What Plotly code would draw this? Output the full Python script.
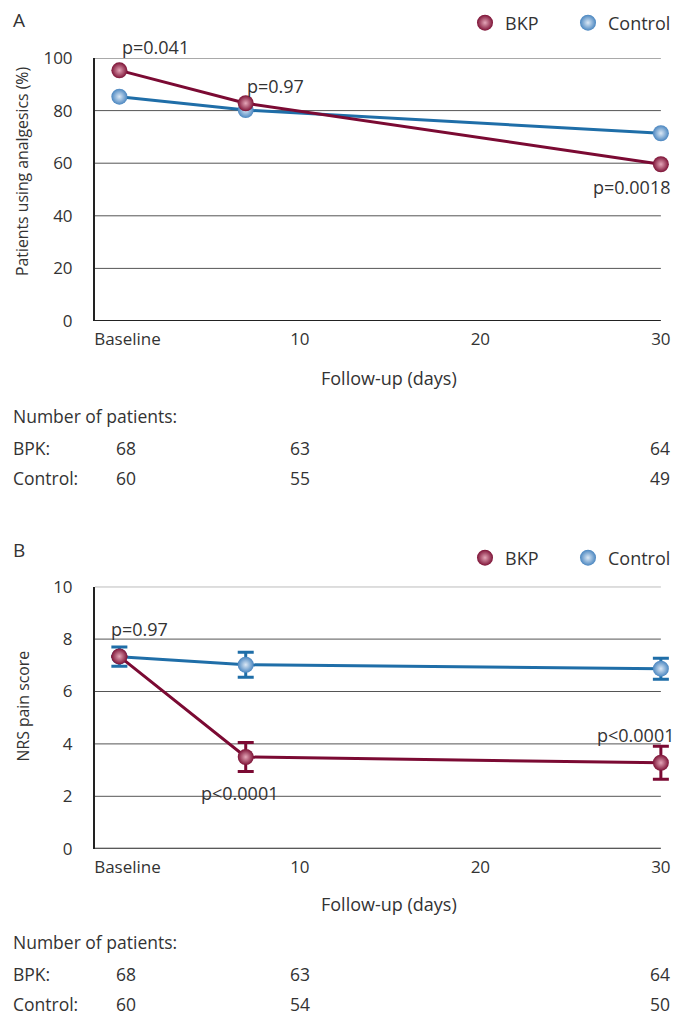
import plotly.graph_objects as go

# ---------------- data ----------------
days = [0, 7, 30]
x_tickvals = [0.45, 10, 20, 30]
x_ticktext = ["Baseline", "10", "20", "30"]

# Panel A: patients using analgesics (%)
y_ticks_a = [0, 20, 40, 60, 80, 100]
analgesic_bkp = [95.3, 82.8, 59.6]
analgesic_ctrl = [85.3, 80.2, 71.4]
pvals_a = ["p=0.041", "p=0.97", "p=0.0018"]
n_a_bkp = [68, 63, 64]
n_a_ctrl = [60, 55, 49]

# Panel B: NRS pain score
y_ticks_b = [0, 2, 4, 6, 8, 10]
nrs_bkp = [7.34, 3.50, 3.28]
nrs_bkp_err = [0, 0.55, 0.63]
nrs_ctrl = [7.33, 7.02, 6.87]
nrs_ctrl_err = [0.37, 0.48, 0.40]
pvals_b = ["p=0.97", "p<0.0001", "p<0.0001"]
n_b_bkp = [68, 63, 64]
n_b_ctrl = [60, 54, 50]

# ---------------- style ----------------
FONT = "Open Sans"
TXT = "#333333"
BKP_LINE = "#7b0a33"
BKP_EDGE = "#7d1236"
BKP_HI = "#e4a6b8"
CTL_LINE = "#1f6ea8"
CTL_EDGE = "#4a86c0"
CTL_HI = "#dbe8f5"

# page body has an 8px default margin: size the figure to the visible area
OFF = 8
W, H = 687 - OFF, 1018 - OFF
X_MIN, X_MAX, X_END = -1.35, 31, 30


def px(x):
    return (x - OFF) / W


def py(y):
    return (H - (y - OFF)) / H


fig = go.Figure()


def add_series(xa, ya, yvals, line, edge, hi, err=None):
    kw = {}
    if err is not None:
        kw["error_y"] = dict(type="data", array=err, visible=True, color=line,
                             thickness=3, width=8)
    fig.add_trace(go.Scatter(
        x=days, y=yvals, xaxis=xa, yaxis=ya, mode="lines+markers",
        line=dict(color=line, width=3),
        marker=dict(size=16, color=edge, gradient=dict(type="radial", color=hi),
                    line=dict(width=0)),
        cliponaxis=False, showlegend=False, hoverinfo="skip", **kw))


# Panel A
add_series("x", "y", analgesic_ctrl, CTL_LINE, CTL_EDGE, CTL_HI)
add_series("x", "y", analgesic_bkp, BKP_LINE, BKP_EDGE, BKP_HI)
# Panel B
add_series("x2", "y2", nrs_ctrl, CTL_LINE, CTL_EDGE, CTL_HI, err=nrs_ctrl_err)
add_series("x2", "y2", nrs_bkp, BKP_LINE, BKP_EDGE, BKP_HI, err=nrs_bkp_err)

# legend-only traces (one legend per item so spacing can match)
leg_items = [("legend", "BKP", BKP_EDGE, BKP_HI, "x", "y"),
             ("legend2", "Control", CTL_EDGE, CTL_HI, "x", "y"),
             ("legend3", "BKP", BKP_EDGE, BKP_HI, "x2", "y2"),
             ("legend4", "Control", CTL_EDGE, CTL_HI, "x2", "y2")]
for lg, name, edge, hi, xa, ya in leg_items:
    fig.add_trace(go.Scatter(
        x=[None], y=[None], mode="markers", name=name, legend=lg, xaxis=xa, yaxis=ya,
        marker=dict(size=16, color=edge, gradient=dict(type="radial", color=hi),
                    line=dict(width=0)),
        showlegend=True))

xdom = [px(95), px(95 + (X_MAX - X_MIN) * 18.05)]
common_x = dict(range=[X_MIN, X_MAX], tickvals=x_tickvals, ticktext=x_ticktext,
                showgrid=False, zeroline=False, showline=False, automargin=False,
                ticks="", ticklabelstandoff=6,
                tickfont=dict(family=FONT, size=17, color=TXT), fixedrange=True)
common_y = dict(showgrid=False, zeroline=False, automargin=False,
                showline=True, linecolor="#222222", linewidth=2, ticks="",
                ticklabelstandoff=17, tickfont=dict(family=FONT, size=17, color=TXT),
                fixedrange=True)

legend_common = dict(orientation="h", yanchor="middle", xanchor="right",
                     font=dict(family=FONT, size=18, color=TXT),
                     bgcolor="rgba(0,0,0,0)")

fig.update_layout(
    width=W, height=H,
    margin=dict(l=0, r=0, t=0, b=0, autoexpand=False),
    paper_bgcolor="white", plot_bgcolor="white",
    font=dict(family=FONT, size=17, color=TXT),
    xaxis=dict(domain=xdom, anchor="y", **common_x),
    yaxis=dict(domain=[py(321), py(58)], anchor="x", range=[0, 100],
               tickvals=y_ticks_a, **common_y),
    xaxis2=dict(domain=xdom, anchor="y2", **common_x),
    yaxis2=dict(domain=[py(848.7), py(586.7)], anchor="x2", range=[0, 10],
                tickvals=y_ticks_b, **common_y),
    legend=dict(x=px(544), y=py(23), **legend_common),
    legend2=dict(x=px(676), y=py(23), **legend_common),
    legend3=dict(x=px(544), y=py(558), **legend_common),
    legend4=dict(x=px(676), y=py(558), **legend_common),
)

# gridlines and bottom axis lines (end at the last follow-up day, as in the reference)
shapes = []
for xa, ya, ticks in [("x", "y", y_ticks_a), ("x2", "y2", y_ticks_b)]:
    for v in ticks:
        base = v == ticks[0]
        shapes.append(dict(type="line", xref=xa, yref=ya, x0=X_MIN, x1=X_END, y0=v, y1=v,
                           layer="below",
                           line=dict(color="#222222" if base else "#555555",
                                     width=2 if base else 1)))
fig.update_layout(shapes=shapes)

ann = []


def A(text, x, y, **kw):
    d = dict(text=text, x=x, y=y, showarrow=False,
             font=dict(family=FONT, size=kw.pop("size", 17), color=TXT))
    d.update(kw)
    ann.append(d)


# panel letters
A("A", px(11), py(20), xref="paper", yref="paper", xanchor="left", yanchor="middle", size=19)
A("B", px(11), py(550), xref="paper", yref="paper", xanchor="left", yanchor="middle", size=19)

# y-axis titles
A("Patients using analgesics (%)", px(22), py(172), xref="paper", yref="paper",
  textangle=-90, xanchor="center", yanchor="middle", size=15.8)
A("NRS pain score", px(22), py(706.5), xref="paper", yref="paper",
  textangle=-90, xanchor="center", yanchor="middle", size=15.8)

# x-axis titles
A("Follow-up (days)", px(389), py(378), xref="paper", yref="paper",
  xanchor="center", yanchor="middle", size=18)
A("Follow-up (days)", px(389), py(904), xref="paper", yref="paper",
  xanchor="center", yanchor="middle", size=18)

# p-values panel A
A(pvals_a[0], days[0], analgesic_bkp[0], xref="x", yref="y", xanchor="left",
  yanchor="middle", xshift=1, yshift=23, size=18)
A(pvals_a[1], days[1], analgesic_bkp[1], xref="x", yref="y", xanchor="left",
  yanchor="middle", xshift=-1, yshift=17, size=18)
A(pvals_a[2], days[2], analgesic_bkp[2], xref="x", yref="y", xanchor="right",
  yanchor="middle", xshift=12, yshift=-23, size=18)
# p-values panel B
A(pvals_b[0], days[0], nrs_bkp[0], xref="x2", yref="y2", xanchor="left",
  yanchor="middle", xshift=-10, yshift=27, size=18)
A(pvals_b[1], days[1], nrs_bkp[1], xref="x2", yref="y2", xanchor="center",
  yanchor="middle", xshift=-6, yshift=-36, size=18)
A(pvals_b[2], days[2], nrs_bkp[2], xref="x2", yref="y2", xanchor="right",
  yanchor="middle", xshift=16, yshift=28, size=18)


# number-of-patient tables
def table(y0, bkp, ctrl, xa):
    A("Number of patients:", px(11), py(y0), xref="paper", yref="paper",
      xanchor="left", yanchor="middle", size=17.5)
    A("BPK:", px(11), py(y0 + 32), xref="paper", yref="paper",
      xanchor="left", yanchor="middle", size=17.5)
    A("Control:", px(11), py(y0 + 62), xref="paper", yref="paper",
      xanchor="left", yanchor="middle", size=17.5)
    shifts = {0: 7, 7: 54, 30: -1}
    for row, vals in [(y0 + 32, bkp), (y0 + 62, ctrl)]:
        for d, v in zip(days, vals):
            A(str(v), d, py(row), xref=xa, yref="paper", xanchor="center",
              yanchor="middle", xshift=shifts[d], size=17.5)


table(416, n_a_bkp, n_a_ctrl, "x")
table(942, n_b_bkp, n_b_ctrl, "x2")

fig.update_layout(annotations=ann)
fig.write_html("out.html")
